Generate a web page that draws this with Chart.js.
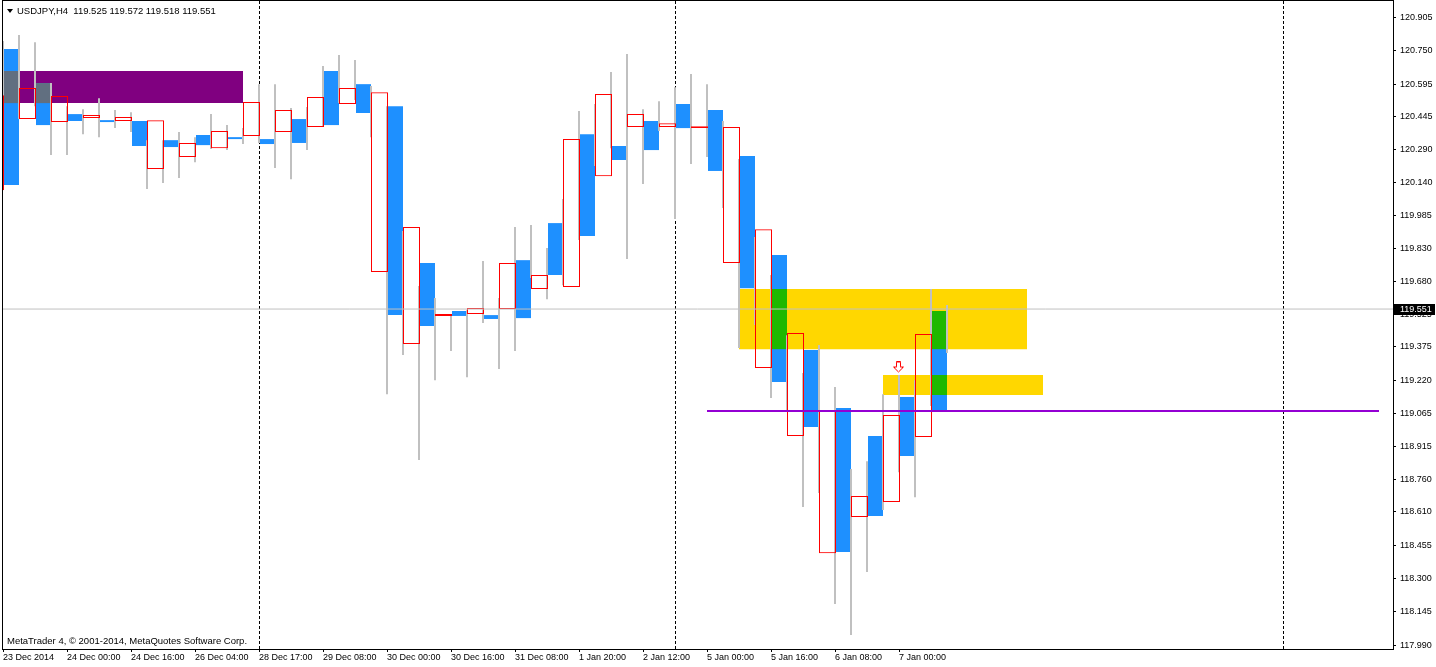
<!DOCTYPE html>
<html lang="en">
<head>
  <meta charset="UTF-8">
  <title>USDJPY,H4</title>
  <script src="https://cdn.jsdelivr.net/npm/chart.js"></script>
  <style>
    html, body{
      margin: 0;
      padding: 0;
      background: #fff;
      overflow: hidden;
    }
    #wrap{
      width: 1436px;
      height: 667px;
    }
  </style>
</head>
<body>
  <div id="wrap">
    <canvas id="chart" width="1436" height="667"></canvas>
  </div>

<script>
  // ---- data (bar -1 is the half hidden one at the left edge)
  const firstBar = -1;

  const opens = [
    120.103, 120.758, 120.433, 120.600, 120.419, 120.456, 120.438, 120.428, 120.424, 120.424,
    120.201, 120.335, 120.257, 120.359, 120.298, 120.349, 120.354, 120.340, 120.373, 120.433,
    120.396, 120.656, 120.503, 120.595, 119.723, 120.493, 119.389, 119.765, 119.519, 119.542,
    119.528, 119.523, 119.551, 119.778, 119.644, 119.950, 119.653, 120.363, 120.168, 120.308,
    120.396, 120.424, 120.396, 120.503, 120.391, 120.475, 119.765, 120.261, 119.277, 119.802,
    118.962, 119.361, 118.418, 119.092, 118.586, 118.962, 118.655, 119.143, 118.957, 119.542,
    null
  ];
  const closes = [
    120.544, 120.127, 120.577, 120.405, 120.540, 120.424, 120.452, 120.419, 120.442, 120.308,
    120.428, 120.303, 120.322, 120.312, 120.377, 120.340, 120.512, 120.317, 120.475, 120.322,
    120.535, 120.405, 120.577, 120.461, 120.558, 119.523, 119.932, 119.472, 119.528, 119.519,
    119.556, 119.505, 119.765, 119.509, 119.709, 119.709, 120.340, 119.890, 120.549, 120.243,
    120.456, 120.289, 120.414, 120.391, 120.400, 120.192, 120.396, 119.648, 119.922, 119.212,
    119.440, 119.003, 119.082, 118.423, 118.683, 118.590, 119.059, 118.869, 119.435, 119.082,
    null
  ];
  const highs = [
    120.544, 120.795, 120.823, 120.790, 120.600, 120.493, 120.479, 120.530, 120.475, 120.465,
    120.335, 120.335, 120.373, 120.349, 120.456, 120.405, 120.391, 120.595, 120.595, 120.484,
    120.489, 120.679, 120.730, 120.707, 120.586, 120.493, 119.913, 119.658, 119.602, 119.523,
    119.546, 119.774, 119.602, 119.932, 119.941, 119.834, 120.062, 120.470, 120.503, 120.651,
    120.735, 120.479, 120.516, 120.581, 120.642, 120.595, 120.424, 120.247, 119.885, 119.709,
    119.430, 119.254, 119.384, 119.189, 118.808, 118.845, 119.156, 119.245, 119.221, 119.644,
    119.570
  ];
  const lows = [
    120.103, 120.289, 120.433, 120.493, 120.266, 120.266, 120.363, 120.349, 120.391, 120.373,
    120.108, 120.136, 120.159, 120.233, 120.294, 120.289, 120.317, 120.322, 120.206, 120.154,
    120.289, 120.396, 120.507, 120.521, 120.349, 119.156, 119.338, 118.850, 119.221, 119.356,
    119.235, 119.486, 119.273, 119.356, 119.695, 119.597, 119.662, 119.871, 120.215, 120.298,
    119.783, 120.131, 120.377, 119.969, 120.224, 120.257, 120.020, 119.370, 119.477, 119.138,
    119.073, 118.632, 118.697, 118.182, 118.038, 118.330, 118.618, 118.794, 118.678, 119.101,
    119.347
  ];

  const tickBars = [0, 4, 8, 12, 16, 20, 24, 28, 32, 36, 40, 44, 48, 52, 56];
  const tickLabels = [
    '23 Dec 2014', '24 Dec 00:00', '24 Dec 16:00', '26 Dec 04:00', '28 Dec 17:00',
    '29 Dec 08:00', '30 Dec 00:00', '30 Dec 16:00', '31 Dec 08:00', '1 Jan 20:00',
    '2 Jan 12:00', '5 Jan 00:00', '5 Jan 16:00', '6 Jan 08:00', '7 Jan 00:00'
  ];
  const priceTicks = [
    120.905, 120.750, 120.595, 120.445, 120.290, 120.140, 119.985, 119.830, 119.680, 119.525,
    119.375, 119.220, 119.065, 118.915, 118.760, 118.610, 118.455, 118.300, 118.145, 117.990
  ];

  // rectangles drawn on the chart (purple box, two yellow zones)
  const zoneFrom   = [0, 46, 55];
  const zoneTo     = [15, 64, 65];
  const zoneTop    = [120.656, 119.644, 119.245];
  const zoneBottom = [120.507, 119.365, 119.152];

  const separatorBars = [16, 42, 80];
  const levelFrom = 44, levelTo = 86, levelPrice = 119.078;
  const arrowBar = 56, arrowPrice = 119.280;
  const lastPrice = 119.551;

  const xMin = -0.0625, xMax = 86.875;
  const yMin = 117.973, yMax = 120.981;

  const titleText = 'USDJPY,H4  119.525 119.572 119.518 119.551';
  const footerText = 'MetaTrader 4, \u00A9 2001-2014, MetaQuotes Software Corp.';

  // ---- colours
  const zoneColors = ['#800080', '#FFD700', '#FFD700'];
  const mixColors  = ['#616F80', '#1EB800', '#1EB800'];   // bear body seen through the zone
  const bearColor = '#1E90FF';
  const bullColor = '#FF0000';
  const wickColor = '#C0C0C0';

  const fontFamily = "'Liberation Sans', Arial, sans-serif";
  const bodyShift = 8.5 / 16;  // MT4 draws the body to the right of the wick

  const bars = opens.map((o, k) => ({
    i: k + firstBar, o: o, c: closes[k], h: highs[k], l: lows[k]
  }));

  const bearBodies = bars.filter(b => b.o !== null && b.c < b.o)
    .map(b => ({x: b.i + bodyShift, y: [b.c, b.o]}));
  const bullBodies = bars.filter(b => b.o !== null && b.c >= b.o)
    .map(b => ({x: b.i + bodyShift, y: [b.o, b.c]}));
  const wicks = bars.filter(b => b.i >= 0)
    .map(b => ({x: b.i, y: [b.l, b.h]}));

  function zoneOverlap(z) {
    const out = [];
    bars.forEach(b => {
      if (b.o === null || b.c >= b.o) return;
      if (b.i < zoneFrom[z] || b.i + 1 > zoneTo[z]) return;
      const lo = Math.max(b.c, zoneBottom[z]);
      const hi = Math.min(b.o, zoneTop[z]);
      if (hi > lo) out.push({x: b.i + bodyShift, y: [lo, hi]});
    });
    return out;
  }

  function makeArrow() {
    const c = document.createElement('canvas');
    c.width = 12; c.height = 12;
    const g = c.getContext('2d');
    g.beginPath();
    g.moveTo(3.5, 0.5); g.lineTo(7.5, 0.5); g.lineTo(7.5, 5.5); g.lineTo(10.5, 5.5);
    g.lineTo(5.5, 10.5); g.lineTo(0.5, 5.5); g.lineTo(3.5, 5.5); g.closePath();
    g.fillStyle = '#fff'; g.fill();
    g.strokeStyle = bullColor; g.lineWidth = 1; g.stroke();
    return c;
  }

  const datasets = [];

  zoneFrom.forEach((from, z) => {
    datasets.push({
      type: 'line', order: 20,
      data: [{x: from, y: zoneTop[z]}, {x: zoneTo[z], y: zoneTop[z]}],
      borderColor: 'transparent', borderWidth: 0, pointRadius: 0,
      backgroundColor: zoneColors[z], fill: {value: zoneBottom[z]}
    });
  });

  separatorBars.forEach(s => {
    datasets.push({
      type: 'line', order: 19,
      data: [{x: s + 0.5 / 16, y: yMin}, {x: s + 0.5 / 16, y: yMax}],
      borderColor: '#000', borderWidth: 1, borderDash: [3, 2], pointRadius: 0, fill: false
    });
  });

  const barCommon = {type: 'bar', grouped: false, inflateAmount: 0, borderSkipped: false};

  datasets.push(Object.assign({}, barCommon, {
    order: 18, data: bearBodies, barThickness: 15, backgroundColor: bearColor, borderWidth: 0
  }));
  zoneFrom.forEach((from, z) => {
    datasets.push(Object.assign({}, barCommon, {
      order: 17, data: zoneOverlap(z), barThickness: 15, backgroundColor: mixColors[z], borderWidth: 0
    }));
  });
  datasets.push(Object.assign({}, barCommon, {
    order: 16, data: wicks, barThickness: 2, backgroundColor: wickColor, borderWidth: 0
  }));
  datasets.push(Object.assign({}, barCommon, {
    order: 15, data: bullBodies, barThickness: 17,
    backgroundColor: 'rgba(0,0,0,0)', borderColor: bullColor, borderWidth: 1
  }));

  datasets.push({
    type: 'line', order: 14,
    data: [{x: xMin, y: lastPrice}, {x: xMax, y: lastPrice}],
    borderColor: wickColor, borderWidth: 1, pointRadius: 0, fill: false
  });
  datasets.push({
    type: 'line', order: 13,
    data: [{x: levelFrom, y: levelPrice}, {x: levelTo, y: levelPrice}],
    borderColor: '#9400D3', borderWidth: 2, pointRadius: 0, fill: false
  });
  datasets.push({
    type: 'scatter', order: 12,
    data: [{x: arrowBar, y: arrowPrice}],
    pointStyle: makeArrow(), pointRadius: 6
  });

  // frame, title, copyright line and the bid label on the price scale
  const mt4Decor = {
    id: 'mt4Decor',
    afterDraw(chart) {
      const {ctx, chartArea: a} = chart;
      const y = chart.scales.y;
      ctx.save();
      ctx.strokeStyle = '#000';
      ctx.lineWidth = 1;
      ctx.strokeRect(a.left + 0.5, a.top - 0.5, a.right - a.left, a.bottom - a.top + 1);

      ctx.fillStyle = '#000';
      ctx.beginPath();
      ctx.moveTo(a.left + 5, 9);
      ctx.lineTo(a.left + 11, 9);
      ctx.lineTo(a.left + 8, 13);
      ctx.closePath();
      ctx.fill();

      ctx.font = '9.5px ' + fontFamily;
      ctx.textBaseline = 'middle';
      ctx.textAlign = 'left';
      ctx.fillText(titleText, a.left + 15, 11);
      ctx.fillText(footerText, a.left + 5, a.bottom - 8);

      ctx.font = '9px ' + fontFamily;
      const py = Math.round(y.getPixelForValue(lastPrice));
      ctx.fillRect(a.right + 1, py - 5, 41, 11);
      ctx.fillStyle = '#fff';
      ctx.fillText(lastPrice.toFixed(3), a.right + 7, py + 0.5);
      ctx.restore();
    }
  };

  Chart.defaults.font.family = fontFamily;
  Chart.defaults.font.size = 9;
  Chart.defaults.color = '#000';

  new Chart(document.getElementById('chart'), {
    type: 'bar',
    data: {datasets: datasets},
    options: {
      responsive: false,
      animation: false,
      events: [],
      devicePixelRatio: 1,
      layout: {autoPadding: false, padding: {left: 2, top: 1, right: 0, bottom: 0}},
      plugins: {
        legend: {display: false},
        tooltip: {enabled: false}
      },
      scales: {
        x: {
          type: 'linear',
          min: xMin,
          max: xMax,
          offset: false,
          grid: {drawOnChartArea: false, drawTicks: true, tickLength: 3, color: '#000', offset: false},
          border: {display: false},
          ticks: {
            autoSkip: false,
            maxRotation: 0,
            align: 'start',
            padding: 0,
            callback: (v, i) => tickLabels[i]
          },
          afterBuildTicks: s => { s.ticks = tickBars.map(v => ({value: v})); },
          afterFit: s => { s.height = 18; s.paddingLeft = 0; s.paddingRight = 0; }
        },
        y: {
          type: 'linear',
          position: 'right',
          min: yMin,
          max: yMax,
          beginAtZero: false,
          grid: {drawOnChartArea: false, drawTicks: true, tickLength: 3, color: '#000'},
          border: {display: false},
          ticks: {
            autoSkip: false,
            padding: 4,
            callback: v => v.toFixed(3)
          },
          afterBuildTicks: s => { s.ticks = priceTicks.map(v => ({value: v})); },
          afterFit: s => { s.width = 43; s.paddingTop = 0; s.paddingBottom = 0; }
        }
      }
    },
    plugins: [mt4Decor]
  });
</script>
</body>
</html>
